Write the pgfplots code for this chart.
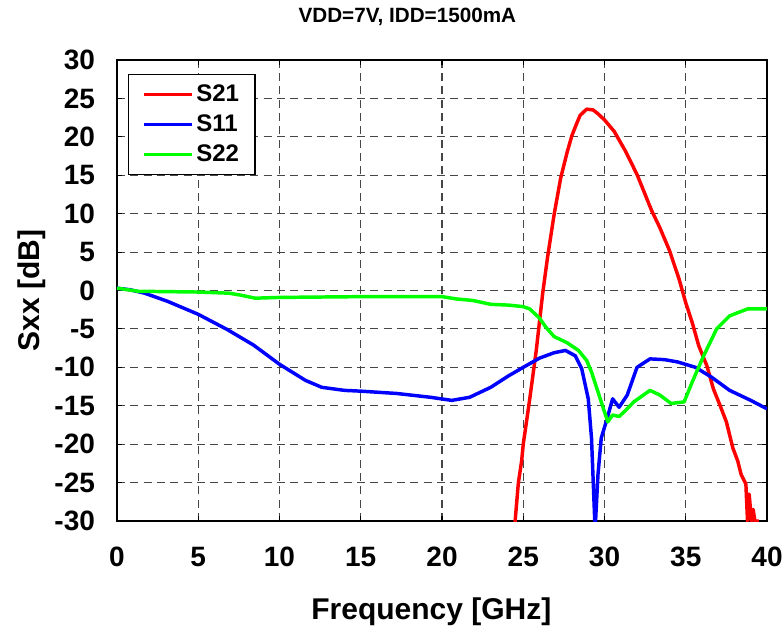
\documentclass[border=0pt]{standalone}
\usepackage{pgfplots}
\pgfplotsset{compat=1.18}
\usepackage{fontspec}
\setmainfont{Liberation Sans}
\definecolor{cRed}{RGB}{255,0,0}
\definecolor{cBlue}{RGB}{0,0,255}
\definecolor{cGreen}{RGB}{0,255,0}
\definecolor{gridc}{RGB}{70,70,70}
\begin{document}
\begin{tikzpicture}
\path[use as bounding box] (-87.75pt,-88.5pt) rectangle (500.25pt,390.75pt);
\begin{axis}[
  scale only axis,
  width=487.5pt, height=345.75pt,
  xmin=0, xmax=40, ymin=-30, ymax=30,
  xtick={0,5,...,40}, ytick={-30,-25,...,30},
  /pgf/number format/assume math mode=true,
  tick label style={font=\bfseries\fontsize{21}{23}\selectfont},
  yticklabel style={xshift=-13pt},
  xticklabel style={yshift=-16pt},
  tick align=inside, major tick length=4pt,
  tick style={black, line width=0.8pt},
  grid=major,
  major grid style={gridc, line width=0.8pt, dash pattern=on 6pt off 4pt},
  axis line style={black, line width=1.2pt},
  title={VDD=7V, IDD=1500mA},
  title style={font=\bfseries\fontsize{15.5}{17}\selectfont, at={(axis description cs:0.5,1)}, anchor=center, yshift=26pt, xshift=-26pt},
  xlabel={Frequency [GHz]},
  xlabel style={font=\bfseries\fontsize{22.5}{24}\selectfont, at={(axis description cs:0.5,0)}, anchor=north, yshift=-54pt, xshift=-8pt},
  ylabel={Sxx [dB]},
  ylabel style={font=\bfseries\fontsize{22.5}{24}\selectfont, at={(axis description cs:-0.1026,0.5)}, anchor=south},
  legend style={at={(axis description cs:0.017,0.97)}, anchor=north west, draw=black, line width=0.8pt,
    font=\bfseries\fontsize{18}{20}\selectfont, row sep=4.5pt, inner xsep=10pt, inner ysep=6pt, cells={anchor=west}},
  legend image code/.code={\draw[#1, line width=2.8pt] (0pt,0pt) -- (36pt,0pt);},
  every axis plot/.append style={line width=2.6pt, line join=round},
  clip=true,
]
\addplot[cRed] coordinates {
(24.40,-32) (24.5,-30) (24.7,-25) (24.9,-22.2) (25.0,-20) (25.4,-14.1) (25.8,-7.8) (26.2,-0.3)
(26.5,4.4) (26.9,9.9) (27.3,14.6) (27.7,18.0) (28.0,20.2) (28.3,21.8) (28.5,22.8) (28.9,23.6)
(29.3,23.5) (29.6,23.0) (30.0,22.2) (30.6,20.7) (31.3,18.1) (32.0,15.1) (32.5,12.5) (32.9,10.4)
(33.4,8.2) (34.0,5.2) (34.6,1.4) (35.0,-1.6) (35.4,-4.2) (35.8,-7.2) (36.3,-9.8) (36.7,-12.8)
(37.1,-14.9) (37.5,-17.1) (37.9,-20.5) (38.2,-22.2) (38.4,-23.9) (38.7,-25.2) (38.8,-30)
(38.9,-26.5) (39.05,-30) (39.15,-28.5) (39.25,-30) (39.5,-30)
};
\addlegendentry{S21}
\addplot[cBlue] coordinates {
(0,0.3) (0.8,0.1) (1.7,-0.35) (3.1,-1.4) (5,-3.1) (6.8,-5.1) (8.4,-7.1) (10,-9.6) (11.6,-11.7)
(12.6,-12.6) (14,-13.0) (15,-13.1) (17.2,-13.4) (19.3,-13.9) (20.6,-14.3) (21.7,-13.9) (23,-12.6)
(24.1,-11.1) (25,-10.0) (26,-8.8) (26.9,-8.1) (27.6,-7.8) (28.2,-8.5) (28.6,-10.2) (29.0,-14.1)
(29.2,-19.2) (29.4,-30) (29.45,-30) (29.6,-23.9) (29.8,-19.2) (30.1,-17.1) (30.5,-14.1) (30.9,-15.2)
(31.4,-13.6) (32.0,-10.0) (32.8,-8.9) (33.7,-9.0) (34.5,-9.3) (35.6,-10.0) (36.6,-11.3) (37.7,-13.0)
(39.0,-14.3) (40,-15.4)
};
\addlegendentry{S11}
\addplot[cGreen] coordinates {
(0,0.3) (1.3,-0.1) (5,-0.2) (6.9,-0.35) (7.6,-0.6) (8.5,-1.0) (10,-0.9) (15,-0.8) (20,-0.8)
(20.9,-1.1) (21.9,-1.3) (23,-1.8) (24.1,-1.9) (25,-2.1) (25.4,-2.4) (26,-3.6) (26.4,-4.8) (26.9,-6.0)
(27.7,-6.8) (28.4,-7.8) (28.9,-9.1) (29.2,-10.6) (29.6,-13.2) (30.0,-15.8) (30.2,-17.1) (30.5,-16.2)
(30.9,-16.4) (31.3,-15.6) (31.8,-14.5) (32.8,-13.0) (33.4,-13.6) (34.1,-14.7) (34.9,-14.5) (35.4,-11.9)
(36.1,-8.5) (36.9,-5.0) (37.7,-3.3) (38.8,-2.4) (40,-2.4)
};
\addlegendentry{S22}
\end{axis}
\end{tikzpicture}
\end{document}
